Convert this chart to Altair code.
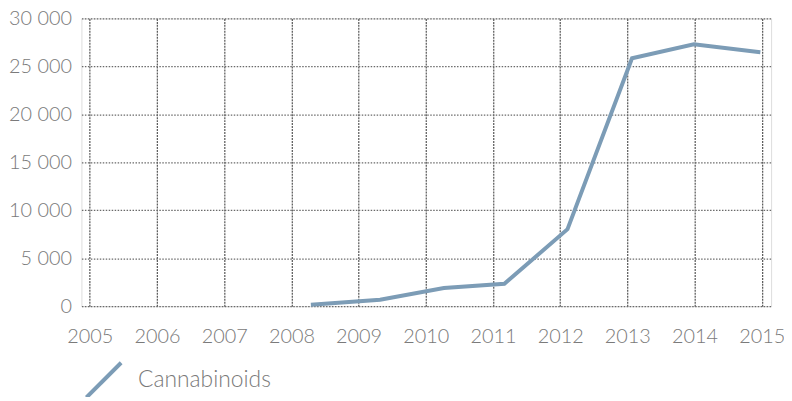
import altair as alt
import pandas as pd

years = [2008.29, 2009.32, 2010.27, 2011.17, 2012.11, 2013.07, 2013.99, 2014.98]
values = [160, 680, 1900, 2330, 8030, 25850, 27300, 26480]
series = ["Cannabinoids"] * len(years)
x_ticks = list(range(2005, 2016))
y_ticks = [0, 5000, 10000, 15000, 20000, 25000, 30000]

df = pd.DataFrame({"year": years, "value": values, "series": series})

FONT = "Lato"
TXT = "#7a7a7a"
LINE = "#7c9cb6"

chart = alt.Chart(df).mark_line(strokeWidth=4, color=LINE).encode(
    x=alt.X(
        "year:Q",
        scale=alt.Scale(domain=[2004.875, 2015.14], nice=False, zero=False),
        axis=alt.Axis(
            values=x_ticks, format="d", title=None, ticks=False, domain=False,
            labelPadding=21, labelFontSize=20, labelColor=TXT, labelFont=FONT,
            labelFontWeight=300, gridColor="#555555", gridDash=[2, 1],
            gridWidth=1.2, gridOpacity=1, labelFlush=False,
        ),
    ),
    y=alt.Y(
        "value:Q",
        scale=alt.Scale(domain=[0, 30000], nice=False),
        axis=alt.Axis(
            values=y_ticks, title=None, ticks=False, domain=False,
            labelPadding=10, labelFontSize=20, labelColor=TXT, labelFont=FONT,
            labelFontWeight=300, gridColor="#6a6a6a", gridDash=[1.5, 1.5],
            gridWidth=1.2, gridOpacity=1,
            labelExpr="replace(format(datum.value, ','), ',', ' ')",
        ),
    ),
    stroke=alt.Stroke(
        "series:N",
        scale=alt.Scale(range=[LINE]),
        legend=alt.Legend(
            title=None, orient="none", legendX=3, legendY=345,
            symbolType="M-1,1L1,-1", symbolSize=1225, symbolStrokeWidth=4,
            symbolStrokeColor=LINE, labelFontSize=23, labelColor=TXT,
            labelFont=FONT, labelFontWeight=300, labelOffset=15,
        ),
    ),
).properties(
    width=695,
    height=290,
    autosize=alt.AutoSizeParams(type="none"),
    padding={"left": 74, "top": 9, "right": 13, "bottom": 90},
).configure_view(stroke=None).configure(background="white")

chart.save("out.html", embed_options={"renderer": "svg", "actions": False})
